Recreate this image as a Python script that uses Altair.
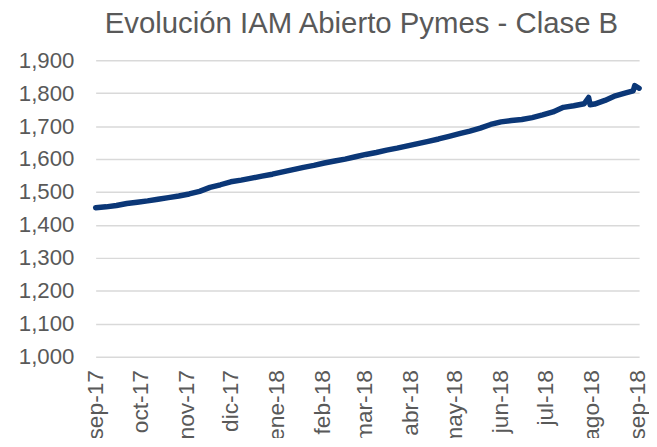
import altair as alt
import pandas as pd

dates = [
    "2017-09-01", "2017-09-08", "2017-09-15", "2017-09-22", "2017-09-29",
    "2017-10-06", "2017-10-13", "2017-10-20", "2017-10-27",
    "2017-11-03", "2017-11-10", "2017-11-17", "2017-11-24",
    "2017-12-01", "2017-12-08", "2017-12-15", "2017-12-22", "2017-12-29",
    "2018-01-05", "2018-01-12", "2018-01-19", "2018-01-26",
    "2018-02-02", "2018-02-09", "2018-02-16", "2018-02-23",
    "2018-03-02", "2018-03-09", "2018-03-16", "2018-03-23", "2018-03-30",
    "2018-04-06", "2018-04-13", "2018-04-20", "2018-04-27",
    "2018-05-04", "2018-05-11", "2018-05-18", "2018-05-25",
    "2018-06-01", "2018-06-08", "2018-06-15", "2018-06-22", "2018-06-29",
    "2018-07-06", "2018-07-13", "2018-07-20", "2018-07-27", "2018-07-30", "2018-07-31",
    "2018-08-03", "2018-08-10", "2018-08-17", "2018-08-24", "2018-08-29", "2018-08-30",
    "2018-09-02",
]
values = [
    1452, 1455, 1459, 1465, 1469,
    1473, 1478, 1483, 1488,
    1494, 1502, 1514, 1522,
    1531, 1536, 1542, 1548, 1554,
    1561, 1568, 1575, 1581,
    1588, 1594, 1600, 1607,
    1614, 1620, 1627, 1633, 1640,
    1647, 1654, 1661, 1669,
    1677, 1685, 1694, 1705,
    1713, 1717, 1720, 1726, 1734,
    1743, 1757, 1762, 1768, 1787, 1765,
    1767, 1778, 1792, 1801, 1807, 1823,
    1815,
]

tick_dates = [
    (2017, 9), (2017, 10), (2017, 11), (2017, 12), (2018, 1), (2018, 2), (2018, 3),
    (2018, 4), (2018, 5), (2018, 6), (2018, 7), (2018, 8), (2018, 9),
]
y_ticks = [1000, 1100, 1200, 1300, 1400, 1500, 1600, 1700, 1800, 1900]

df = pd.DataFrame({"fecha": dates, "valor": values})

label_expr = (
    "['ene','feb','mar','abr','may','jun','jul','ago','sep','oct','nov','dic']"
    "[utcmonth(datum.value)] + '-' + utcFormat(datum.value, '%y')"
)

font = "Liberation Sans"
grey = "#595959"

chart = alt.Chart(df).mark_line(color="#0b3777", strokeWidth=5.5, strokeCap="round", strokeJoin="round").encode(
    x=alt.X(
        "fecha:T",
        scale=alt.Scale(
            type="utc",
            domain=[alt.DateTime(year=2017, month=9, date=1, utc=True),
                    alt.DateTime(year=2018, month=9, date=2, utc=True)],
        ),
        axis=alt.Axis(
            values=[alt.DateTime(year=y, month=m, date=1, utc=True) for y, m in tick_dates],
            labelExpr=label_expr,
            labelAngle=-90,
            labelFontSize=23,
            labelFont=font,
            labelColor=grey,
            labelPadding=13,
            ticks=False,
            domain=False,
            grid=False,
            title=None,
        ),
    ),
    y=alt.Y(
        "valor:Q",
        scale=alt.Scale(domain=[1000, 1900], nice=False, zero=False),
        axis=alt.Axis(
            values=y_ticks,
            format=",d",
            labelFontSize=22.5,
            labelFont=font,
            labelColor=grey,
            labelPadding=22,
            ticks=False,
            domain=False,
            grid=True,
            gridColor="#d9d9d9",
            gridWidth=1.5,
            title=None,
        ),
    ),
).properties(
    width=550,
    height=300,
    title=alt.TitleParams(
        "Evolución IAM Abierto Pymes - Clase B",
        font=font,
        fontSize=29.7,
        fontWeight="normal",
        color=grey,
        anchor="middle",
        dx=-6,
        offset=10,
    ),
    autosize=alt.AutoSizeParams(type="none"),
    padding={"left": 88.7, "top": 50.3, "right": 10, "bottom": 80},
).configure_view(stroke=None)

chart.save("out.html", embed_options={"renderer": "svg", "actions": False})
